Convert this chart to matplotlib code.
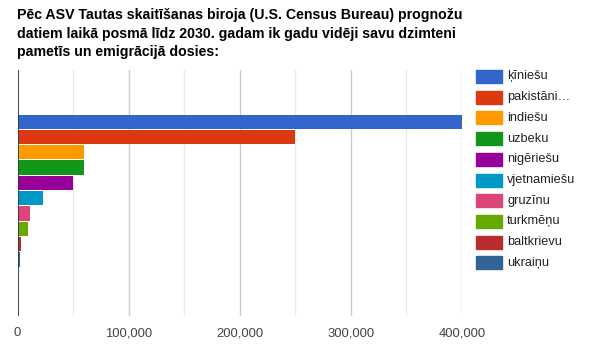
import matplotlib.pyplot as plt
import matplotlib.patches as patches
from matplotlib.ticker import FuncFormatter, MultipleLocator

# data
names = ['ķīniešu', 'pakistāni…', 'indiešu', 'uzbeku', 'nigēriešu',
         'vjetnamiešu', 'gruzīnu', 'turkmēņu', 'baltkrievu', 'ukraiņu']
values = [400000, 250000, 60000, 60000, 50000, 23000, 11000, 9500, 3500, 2500]
colors = ['#3366cc', '#dc3912', '#ff9900', '#109618', '#990099',
          '#0099c6', '#dd4477', '#66aa00', '#b82e2e', '#316395']
ticks = [0, 100000, 200000, 300000, 400000]
title = ('Pēc ASV Tautas skaitīšanas biroja (U.S. Census Bureau) prognožu\n'
         'datiem laikā posmā līdz 2030. gadam ik gadu vidēji savu dzimteni\n'
         'pametīs un emigrācijā dosies:')

plt.rcParams['font.family'] = ['Liberation Sans', 'DejaVu Sans']

W, H = 591, 359
fig = plt.figure(figsize=(W / 100, H / 100), dpi=100)
# plot area in pixels: x 17.5..462, y 70..316
ax = fig.add_axes([17.5 / W, 1 - 316 / H, (462 - 17.5) / W, (316 - 70) / H])

n = len(values)
group = 0.622
pitch = group / n
for i, (v, c) in enumerate(zip(values, colors)):
    y = group / 2 - pitch * (i + 0.5)
    ax.barh(y, v, height=pitch * 0.93, color=c, zorder=3)

ax.set_ylim(-0.5 - 0.01, 0.5 - 0.01)
ax.set_xlim(0, 400000)
ax.set_yticks([])
ax.xaxis.set_minor_locator(MultipleLocator(50000))
ax.set_xticks(ticks)
ax.xaxis.set_major_formatter(FuncFormatter(lambda x, p: f'{int(x):,}'))
ax.grid(axis='x', which='major', color='#cccccc', linewidth=1, zorder=0)
ax.grid(axis='x', which='minor', color='#ebebeb', linewidth=1, zorder=0)
ax.axvline(0, color='#333333', linewidth=1.2, zorder=4)
ax.tick_params(axis='x', which='both', length=0, pad=8, labelsize=9.4, labelcolor='#444444')
for s in ax.spines.values():
    s.set_visible(False)

fig.text(17 / W, 1 - 8 / H, title, ha='left', va='top', fontsize=10.2,
         fontweight='bold', color='#000000', linespacing=1.42)

# legend on the right, drawn by hand
for i, (name, c) in enumerate(zip(names, colors)):
    ytop = 70 + i * 20.7
    fig.patches.append(patches.Rectangle((476 / W, 1 - (ytop + 13) / H), 26 / W, 13 / H,
                                         transform=fig.transFigure, color=c))
    fig.text(507 / W, 1 - (ytop + 6.5) / H, name, ha='left', va='center',
             fontsize=9.2, color='#222222')

fig.savefig('out.png', dpi=100)
